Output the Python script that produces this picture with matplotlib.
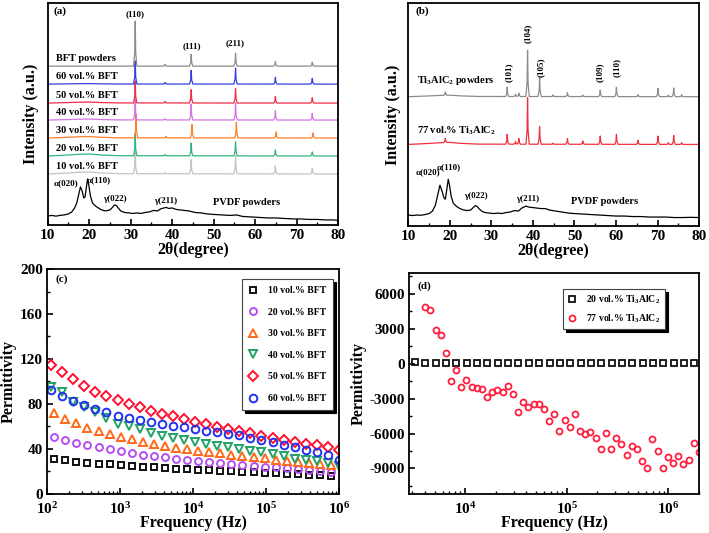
import matplotlib
matplotlib.use('Agg')
import matplotlib.pyplot as plt
import numpy as np
from matplotlib.ticker import MultipleLocator, LogLocator, NullFormatter, NullLocator

# ---------------- data ----------------
# (a) XRD of BFT composites (intensity in arbitrary units)
a_labels = ['BFT powders', '60 vol.% BFT', '50 vol.% BFT', '40 vol.% BFT',
            '30 vol.% BFT', '20 vol.% BFT', '10 vol.% BFT']
a_colors = ['#8c8c8c', '#3040e0', '#f02c48', '#d274e2', '#ff7f2a', '#2fb57a', '#c4c4c4']
a_offsets = [159, 141, 122, 105, 87, 69, 51]
a_peak_pos = [31.1, 38.3, 44.6, 55.3, 64.9, 73.8]
a_shift = [0, 0, 0, 0, 0.2, 0, 0]
a_peak_h = [
    [45, 1.7, 11.7, 13, 4.7, 4],
    [23, 1.5, 13.7, 16, 6.7, 5.7],
    [22, 1.5, 13.3, 14.3, 6.7, 5.3],
    [21, 1.2, 16, 16.7, 9.3, 6.7],
    [24, 1.5, 13.3, 15.7, 6, 5],
    [22, 1.2, 12.7, 14, 6, 4],
    [22, 1.2, 14, 18, 8, 5.7],
]
a_hump = [0, 0.5, 1, 1, 1.5, 2, 2]
pvdf_a = [(10, 9), (11, 9.5), (12, 8.8), (13, 9.6), (14, 10), (15, 11), (15.8, 13),
          (16.5, 17), (17.0, 22), (17.5, 31), (17.9, 38), (18.3, 34), (18.7, 27),
          (19.0, 28), (19.3, 37), (19.6, 46), (19.9, 40), (20.3, 29), (20.8, 22),
          (21.5, 19), (22.2, 17), (23.0, 15), (24.0, 14), (25.0, 15), (25.6, 17.5),
          (26.1, 20), (26.5, 19.5), (27.0, 17), (27.6, 14), (28.5, 12.5), (29.5, 12),
          (30.5, 11.5), (31.5, 12), (32.5, 11.5), (33.5, 12.5), (34.5, 13), (35.5, 14.5),
          (36.5, 14), (37.2, 16), (38.0, 17), (38.6, 17.5), (39.2, 16.5), (40.0, 17),
          (41.0, 15.5), (42.0, 15), (43.0, 14.5), (44.0, 14), (45.5, 12.5), (47, 12),
          (48.5, 11), (50, 10.5), (52, 10), (54, 9.5), (55.5, 10), (57, 8.5), (59, 8),
          (61, 7.5), (63, 7), (65, 7), (67, 6.5), (69, 6), (71, 6), (73, 5.5), (75, 5.5),
          (77, 5), (79, 5), (80, 4.5)]

# (b) XRD of Ti3AlC2 composites
b_peak_pos = [18.9, 33.8, 35.8, 36.6, 38.7, 41.6, 44.8, 48.3, 52.0, 56.2, 60.1,
              65.3, 70.1, 72.6, 73.9, 75.8]
ti_base = 130
ti_peak_h = [3.3, 9.5, 2.3, 3.3, 46.7, 19.3, 1.5, 4, 1.5, 6.7, 9.5, 2, 8.3, 1.5, 8.7, 2]
c77_base = 82
c77_peak_h = [4.3, 10, 2.7, 5.7, 46.7, 17.7, 1, 5.7, 3.3, 8.3, 10, 4, 8.3, 1.7, 9, 1.7]
pvdf_b = [(10, 11), (11, 10.5), (12, 11), (13, 10.8), (14, 11.5), (15, 12.5), (15.8, 15),
          (16.5, 21), (17.0, 30), (17.6, 41), (18.1, 35), (18.6, 28), (18.9, 27),
          (19.3, 38), (19.6, 47), (19.9, 41), (20.3, 30), (20.8, 23), (21.5, 20),
          (22.2, 18), (23.0, 16.5), (24.0, 15.5), (25.0, 16), (25.6, 18.5), (26.1, 20.5),
          (26.6, 19.5), (27.1, 17), (27.8, 14.5), (28.5, 13.5), (29.5, 13), (30.5, 12.5),
          (31.5, 13), (32.5, 12.5), (33.5, 13.5), (34.5, 14), (35.5, 15.5), (36.5, 15),
          (37.3, 18), (38.3, 20), (39.0, 19), (40.0, 18.5), (41.0, 18), (42.0, 17.5),
          (43.0, 17.5), (44.0, 16), (45.5, 15), (47, 14), (48.5, 13), (50, 12.5),
          (52, 12), (54, 11.5), (56, 11), (58, 10.5), (60, 10), (62, 10), (64, 9.5),
          (66, 9.5), (68, 9), (70, 9), (72, 9), (74, 8.5), (76, 8.5), (78, 8.7), (80, 8.5)]

# (c) permittivity vs frequency, BFT composites
freq_c1 = [126, 178, 253, 358, 508, 720, 1021, 1448, 2053, 2912, 4130, 5857, 8306,
           11780, 16705, 23690, 33597, 47647, 67573, 95831, 135906, 192739, 273338,
           387643, 549749, 779648]
freq_c2 = [114, 161, 229, 324, 460, 652, 925, 1312, 1861, 2639, 3743, 5309, 7530,
           10680, 15148, 21484, 30471, 43217, 61296, 86938, 123306, 174887, 248045,
           351810, 498981, 707716, 1000000]
eps_10 = [30.8, 29.9, 28.7, 27.9, 27.0, 26.4, 25.5, 24.9, 24.3, 23.7, 23.1, 22.5, 21.9,
          21.5, 21.0, 20.6, 20.1, 19.7, 19.3, 18.9, 18.4, 18.0, 17.6, 17.2, 16.8, 16.3]
eps_20 = [50.4, 48.0, 45.6, 43.6, 41.5, 39.7, 37.9, 36.4, 34.9, 33.8, 32.6, 31.4, 30.2,
          29.3, 28.4, 27.5, 26.7, 25.9, 25.1, 24.4, 23.6, 22.8, 22.0, 21.3, 20.6, 19.9]
eps_30 = [72, 67, 62.8, 59, 56, 53.3, 50.7, 48.5, 46.5, 44.6, 43, 41.3, 39.8, 38.5,
          37.3, 36.2, 35, 33.8, 32.8, 31.8, 30.6, 29.6, 28.6, 27.6, 26.5, 25.4]
eps_40 = [95.4, 90.4, 82, 77, 72.6, 67.6, 62.5, 60.2, 57.6, 53.8, 51.6, 50.1, 48,
          46.2, 44.4, 43, 41.5, 40, 38.5, 37, 35.3, 33.5, 31.4, 30.5, 29, 27.6, 25.2]
eps_50 = [115, 108, 102, 96.4, 91, 86.8, 83.4, 80.1, 76.9, 73.7, 71.5, 69, 66.6,
          63.9, 61.9, 59.6, 57.8, 56, 54.2, 51.9, 50.1, 48, 46.2, 44.7, 43.3, 41.5, 39.4]
eps_60 = [92.5, 87.5, 83, 78.8, 75.5, 72.5, 69.5, 67.5, 65.8, 64, 62.2, 60.7, 59.3,
          57.8, 56.4, 55, 53.6, 52, 50, 48, 45.9, 43.6, 41.5, 39.4, 37, 34.5, 30.5]

# (d) permittivity vs frequency, Ti3AlC2 composites
freq_d20 = [3221, 4074, 5140, 6501, 8222, 10375, 13122, 16596, 20989, 26485, 33497,
            42364, 53456, 67608, 85507, 108143, 136458, 172584, 218273, 275423, 348337,
            440555, 557186, 703072, 889201, 1124605, 1419058, 1794734]
eps_d20 = [110, 105, 100, 98, 95, 92, 90, 88, 86, 84, 82, 80, 78, 76, 74, 72, 70, 68,
           66, 64, 62, 60, 58, 56, 54, 52, 45, 40]
freq_d77 = [4046, 4550, 5117, 5741, 6457, 7261, 8166, 9183, 10304, 11588, 13032, 14655,
            16482, 18493, 20797, 23388, 26303, 29580, 33189, 37325, 41976, 47206, 53088,
            59566, 66988, 75336, 84723, 95280, 106905, 120226, 135207, 152055, 171002,
            191867, 215774, 242661, 272898, 306902, 344350, 387258, 435512, 489779,
            550808, 618016, 695024, 781628, 879023, 988553, 1109175, 1247384, 1402814,
            1577611, 1774195, 1990673]
eps_d77 = [4850, 4600, 2900, 2450, 900, -1520, -510, -1970, -1370, -1970, -2070, -2140,
           -2840, -2400, -2240, -2450, -1920, -2600, -4160, -3300, -3680, -3450, -3450,
           -3880, -4900, -4280, -5760, -4800, -5480, -4280, -5760, -6070, -5870, -6420,
           -7290, -5970, -7370, -6420, -6930, -7840, -7090, -7310, -8350, -9000, -6470,
           -7470, -8970, -8040, -8510, -7930, -8640, -8240, -6840, -7560]

# ---------------- style ----------------
plt.rcParams['font.family'] = ['Liberation Serif', 'DejaVu Serif']
plt.rcParams['font.weight'] = 'bold'
plt.rcParams['axes.labelweight'] = 'bold'
plt.rcParams['mathtext.fontset'] = 'custom'
plt.rcParams['mathtext.rm'] = 'Liberation Serif:bold'
plt.rcParams['mathtext.bf'] = 'Liberation Serif:bold'
plt.rcParams['mathtext.it'] = 'Liberation Serif:bold:italic'
plt.rcParams['axes.unicode_minus'] = False
plt.rcParams['axes.linewidth'] = 1.3
plt.rcParams['xtick.direction'] = 'in'
plt.rcParams['ytick.direction'] = 'in'
plt.rcParams['xtick.major.size'] = 4
plt.rcParams['ytick.major.size'] = 4
plt.rcParams['xtick.minor.size'] = 2.5
plt.rcParams['ytick.minor.size'] = 2.5
plt.rcParams['xtick.major.width'] = 1.2
plt.rcParams['ytick.major.width'] = 1.2
plt.rcParams['xtick.minor.width'] = 1.0
plt.rcParams['ytick.minor.width'] = 1.0

TICK_FS = 11
LABEL_FS = 11.5
ANN_FS = 7.5


def xrd_line(base, pos, heights, hump=0):
    # baseline with a broad amorphous PVDF hump plus narrow crystalline peaks
    hx = [10, 14, 18, 20, 23, 27, 80]
    hy = [0, 0.4, 0.9, 1, 0.5, 0.15, 0]
    pts = [(x, 0) for x in hx]
    for p, h in zip(pos, heights):
        pts += [(p - 0.4, 0), (p - 0.12, 0.3 * h), (p, h), (p + 0.12, 0.3 * h), (p + 0.4, 0)]
    pts.sort()
    xs = np.array([p[0] for p in pts])
    ys = np.array([p[1] for p in pts]) + base + hump * np.interp(xs, hx, hy)
    return xs, ys


fig = plt.figure(figsize=(7.09, 5.33), dpi=100)

# ---------------- (a) ----------------
ax = fig.add_axes([0.0673, 0.578, 0.4094, 0.416])
for i in range(len(a_labels))[::-1]:
    pos = [p + a_shift[i] for p in a_peak_pos]
    xs, ys = xrd_line(a_offsets[i], pos, a_peak_h[i], a_hump[i])
    ax.plot(xs, ys, color=a_colors[i], lw=0.9)
    ax.text(12.1, a_offsets[i] + 7.5, a_labels[i], fontsize=ANN_FS, va='center', ha='left')
ax.plot(*zip(*pvdf_a), color='black', lw=0.9)
ax.text(31.0, 211, '(110)', fontsize=6.5, ha='center', va='center')
ax.text(44.7, 179, '(111)', fontsize=6.5, ha='center', va='center')
ax.text(55.1, 182, '(211)', fontsize=6.5, ha='center', va='center')
ax.text(14.3, 41.7, 'α(020)', fontsize=6.5, ha='center', va='center')
ax.text(19.4, 44.3, 'α(110)', fontsize=6.5, ha='left', va='center')
ax.text(26.2, 26, 'γ(022)', fontsize=6.5, ha='center', va='center')
ax.text(38.4, 24.3, 'γ(211)', fontsize=6.5, ha='center', va='center')
ax.text(49.9, 22.3, 'PVDF powders', fontsize=ANN_FS, ha='left', va='center')
ax.text(0.02, 0.965, '(a)', transform=ax.transAxes, fontsize=ANN_FS + 0.5, va='center')
ax.set_xlim(10, 80)
ax.set_ylim(0, 222)
ax.xaxis.set_major_locator(MultipleLocator(10))
ax.xaxis.set_minor_locator(MultipleLocator(5))
ax.yaxis.set_major_locator(NullLocator())
ax.tick_params(axis='x', labelsize=TICK_FS, pad=3)
ax.set_xlabel('2θ(degree)', fontsize=LABEL_FS, labelpad=0)
ax.set_ylabel('Intensity (a.u.)', fontsize=LABEL_FS, labelpad=6)

# ---------------- (b) ----------------
ax = fig.add_axes([0.576, 0.576, 0.410, 0.418])
xs, ys = xrd_line(ti_base, b_peak_pos, ti_peak_h, 1.5)
ax.plot(xs, ys, color='#8c8c8c', lw=0.9)
xs, ys = xrd_line(c77_base, b_peak_pos, c77_peak_h, 2)
ax.plot(xs, ys, color='#f0303c', lw=0.9)
ax.plot(*zip(*pvdf_b), color='black', lw=0.9)
ax.text(12.1, 146, r'Ti$_\mathbf{3}$AlC$_\mathbf{2}$ powders', fontsize=ANN_FS, va='center')
ax.text(12.1, 96, r'77 vol.% Ti$_\mathbf{3}$AlC$_\mathbf{2}$', fontsize=ANN_FS, va='center')
for lab, x, y in [('(101)', 34.3, 155), ('(104)', 38.8, 194), ('(105)', 41.9, 160),
                  ('(109)', 56.1, 155), ('(110)', 60.2, 159)]:
    ax.text(x, y, lab, fontsize=6.5, rotation=90, ha='center', va='center')
ax.text(14.8, 54, 'α(020)', fontsize=6.5, ha='center', va='center')
ax.text(19.8, 59, 'α(110)', fontsize=6.5, ha='center', va='center')
ax.text(26.2, 30, 'γ(022)', fontsize=6.5, ha='center', va='center')
ax.text(38.7, 27, 'γ(211)', fontsize=6.5, ha='center', va='center')
ax.text(49.2, 24.3, 'PVDF powders', fontsize=ANN_FS, ha='left', va='center')
ax.text(0.025, 0.965, '(b)', transform=ax.transAxes, fontsize=ANN_FS + 0.5, va='center')
ax.set_xlim(10, 80)
ax.set_ylim(0, 224)
ax.xaxis.set_major_locator(MultipleLocator(10))
ax.xaxis.set_minor_locator(MultipleLocator(5))
ax.yaxis.set_major_locator(NullLocator())
ax.tick_params(axis='x', labelsize=TICK_FS, pad=3)
ax.set_xlabel('2θ(degree)', fontsize=LABEL_FS, labelpad=0)
ax.set_ylabel('Intensity (a.u.)', fontsize=LABEL_FS, labelpad=5)

# ---------------- (c) ----------------
ax = fig.add_axes([0.0663, 0.0732, 0.4117, 0.4221])
c_series = [
    (freq_c1, eps_10, 's', '#111111', 4.3, '10 vol.% BFT'),
    (freq_c1, eps_20, 'o', '#b84ef0', 5.0, '20 vol.% BFT'),
    (freq_c1, eps_30, '^', '#ff6a1a', 6.0, '30 vol.% BFT'),
    (freq_c2, eps_40, 'v', '#22a266', 6.0, '40 vol.% BFT'),
    (freq_c2, eps_50, 'D', '#ff1030', 5.2, '50 vol.% BFT'),
    (freq_c2, eps_60, 'o', '#2233ee', 5.5, '60 vol.% BFT'),
]
for f, e, m, c, ms, lab in c_series:
    ax.plot(f, e, linestyle='none', marker=m, mfc='none', mec=c, mew=1.4, ms=ms, label=lab)
ax.set_xscale('log')
ax.set_xlim(1e2, 1e6)
ax.set_ylim(0, 200)
ax.yaxis.set_major_locator(MultipleLocator(40))
ax.yaxis.set_minor_locator(MultipleLocator(20))
ax.xaxis.set_major_locator(LogLocator(base=10))
ax.xaxis.set_minor_locator(LogLocator(base=10, subs=np.arange(2, 10)))
ax.xaxis.set_minor_formatter(NullFormatter())
ax.tick_params(axis='y', labelsize=TICK_FS, pad=3)
ax.tick_params(axis='x', labelsize=TICK_FS, pad=5)
ax.set_xlabel('Frequency (Hz)', fontsize=LABEL_FS, labelpad=-1)
ax.set_ylabel('Permittivity', fontsize=LABEL_FS, labelpad=2)
ax.text(0.03, 0.955, '(c)', transform=ax.transAxes, fontsize=ANN_FS + 0.5, va='center')
leg = ax.legend(loc='upper right', bbox_to_anchor=(0.98, 0.955), prop={'size': 7, 'weight': 'bold'},
                fancybox=False, shadow={'color': 'black', 'alpha': 1}, edgecolor='#444444',
                framealpha=1, borderpad=0.7, labelspacing=1.3, handlelength=0.9,
                handletextpad=1.1, borderaxespad=0)
leg.get_frame().set_linewidth(0.8)

# ---------------- (d) ----------------
ax = fig.add_axes([0.577, 0.0732, 0.409, 0.4146])
ax.plot(freq_d20, eps_d20, linestyle='none', marker='s', mfc='none', mec='#111111',
        mew=1.3, ms=3.8, label=r'20 vol.% Ti$_\mathbf{3}$AlC$_\mathbf{2}$')
ax.plot(freq_d77, eps_d77, linestyle='none', marker='o', mfc='none', mec='#ff2040',
        mew=1.3, ms=4.3, label=r'77 vol.% Ti$_\mathbf{3}$AlC$_\mathbf{2}$')
ax.set_xscale('log')
ax.set_xlim(2812, 2.0e6)
ax.set_ylim(-11200, 7800)
ax.yaxis.set_major_locator(MultipleLocator(3000))
ax.yaxis.set_minor_locator(MultipleLocator(1500))
ax.xaxis.set_major_locator(LogLocator(base=10))
ax.xaxis.set_minor_locator(LogLocator(base=10, subs=np.arange(2, 10)))
ax.xaxis.set_minor_formatter(NullFormatter())
ax.tick_params(axis='y', labelsize=TICK_FS, pad=3)
ax.tick_params(axis='x', labelsize=TICK_FS, pad=5)
ax.set_xlabel('Frequency (Hz)', fontsize=LABEL_FS, labelpad=-1)
ax.set_ylabel('Permittivity', fontsize=LABEL_FS, labelpad=2)
ax.text(0.03, 0.94, '(d)', transform=ax.transAxes, fontsize=ANN_FS + 0.5, va='center')
leg = ax.legend(loc='upper right', bbox_to_anchor=(0.883, 0.928), prop={'size': 7, 'weight': 'bold'},
                fancybox=False, shadow={'color': 'black', 'alpha': 1}, edgecolor='#444444',
                framealpha=1, borderpad=0.5, labelspacing=0.6, handlelength=0.9,
                handletextpad=1.0, borderaxespad=0)
leg.get_frame().set_linewidth(0.8)

fig.savefig('out.png', dpi=100)
